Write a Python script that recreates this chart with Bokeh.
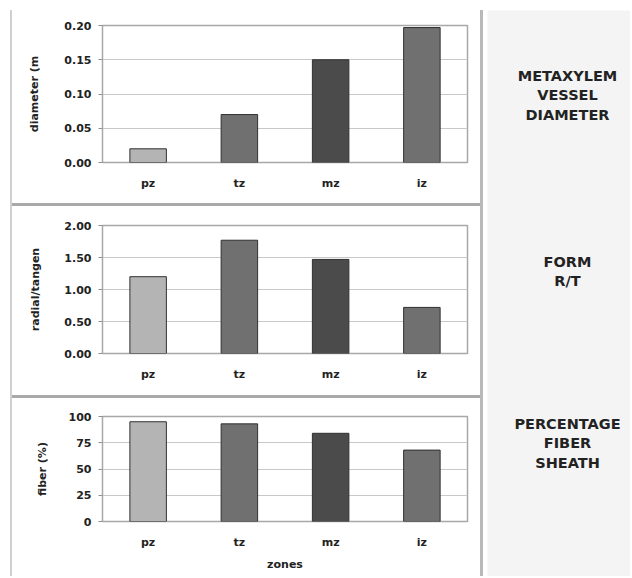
from bokeh.plotting import figure
from bokeh.layouts import row, column
from bokeh.models import (Spacer, Range1d, FactorRange, FixedTicker,
                          NumeralTickFormatter, Label, ColumnDataSource)
from bokeh.embed import file_html
from bokeh.resources import INLINE

# ---- data ----
zones = ["pz", "tz", "mz", "iz"]
bar_colors = ["#b4b4b4", "#707070", "#4b4b4b", "#707070"]
diameter = [0.02, 0.07, 0.15, 0.197]
form_rt = [1.20, 1.77, 1.47, 0.72]
fiber_pct = [95, 93, 84, 68]

diam_ticks = [0.0, 0.05, 0.10, 0.15, 0.20]
form_ticks = [0.0, 0.5, 1.0, 1.5, 2.0]
fiber_ticks = [0, 25, 50, 75, 100]

side_labels = ["METAXYLEM\nVESSEL\nDIAMETER", "FORM\nR/T", "PERCENTAGE\nFIBER\nSHEATH"]

FONT = "DejaVu Sans"
TXT = "#222222"


def panel(values, ticks, fmt, ymax, ylabel, height, borders, xlabel=None, lab_standoff=19):
    top, bottom, left, right = borders
    src = ColumnDataSource(dict(zone=zones, val=values, color=bar_colors))
    p = figure(x_range=FactorRange(*zones, range_padding=0),
               y_range=Range1d(0, ymax),
               width=468, height=height, output_backend="svg",
               toolbar_location=None,
               min_border_top=top, min_border_bottom=bottom,
               min_border_left=left, min_border_right=right)
    p.vbar(x="zone", top="val", width=0.4, source=src, fill_color="color",
           line_color="#303030", line_width=1)
    p.outline_line_color = "#a8a8a8"
    p.outline_line_width = 1.5
    p.background_fill_color = "white"
    p.border_fill_color = "white"
    p.xgrid.grid_line_color = None
    p.ygrid.grid_line_color = "#c8c8c8"
    p.ygrid.grid_line_width = 1

    p.yaxis.ticker = FixedTicker(ticks=ticks)
    p.yaxis.formatter = NumeralTickFormatter(format=fmt)
    p.yaxis.axis_line_color = None
    p.yaxis.major_tick_in = 0
    p.yaxis.major_tick_out = 4
    p.yaxis.major_tick_line_color = "#909090"
    p.yaxis.minor_tick_line_color = None
    p.yaxis.major_label_standoff = 7
    p.yaxis.axis_label = ylabel
    p.yaxis.axis_label_standoff = lab_standoff

    p.xaxis.axis_line_color = None
    p.xaxis.major_tick_line_color = None
    p.xaxis.major_tick_in = 0
    p.xaxis.major_tick_out = 0
    p.xaxis.major_label_standoff = 14
    if xlabel:
        p.xaxis.axis_label = xlabel
        p.xaxis.axis_label_standoff = 6

    for ax in (p.xaxis[0], p.yaxis[0]):
        ax.major_label_text_font = FONT
        ax.major_label_text_font_size = "11px"
        ax.major_label_text_font_style = "bold"
        ax.major_label_text_color = TXT
        ax.axis_label_text_font = FONT
        ax.axis_label_text_font_size = "11px"
        ax.axis_label_text_font_style = "bold"
        ax.axis_label_text_color = TXT
    return p


f1 = panel(diameter, diam_ticks, "0.00", 0.20, "diameter (m", 193, (15, 41, 87, 10), lab_standoff=20)
f2 = panel(form_rt, form_ticks, "0.00", 2.0, "radial/tangen", 189, (19, 42, 90, 13), lab_standoff=19)
f3 = panel(fiber_pct, fiber_ticks, "0", 100, "fiber (%)", 178, (18, 55, 90, 13),
           xlabel="zones", lab_standoff=17)

SEP = "#a9a9a9"
left_col = column(
    f1,
    Spacer(width=468, height=3, styles={"background-color": SEP}),
    f2,
    Spacer(width=468, height=3, styles={"background-color": SEP}),
    f3,
)

PANEL_H = 193 + 3 + 189 + 3 + 178

# right label panel
rp = figure(width=143, height=PANEL_H, x_range=Range1d(0, 143), y_range=Range1d(PANEL_H, 0),
            output_backend="svg", toolbar_location=None,
            min_border=0, min_border_left=0, min_border_right=0,
            min_border_top=0, min_border_bottom=0)
rp.axis.visible = False
rp.grid.visible = False
rp.outline_line_color = None
rp.background_fill_color = "#f4f4f4"
rp.border_fill_color = "#f4f4f4"
label_y = [85, 261, 433]
for txt, y in zip(side_labels, label_y):
    rp.add_layout(Label(x=80, y=y, text=txt, x_units="data", y_units="data",
                        text_align="center", text_baseline="middle",
                        text_font=FONT, text_font_size="14.5px",
                        text_font_style="bold", text_color=TXT,
                        text_line_height=1.2))

layout = column(
    Spacer(width=630, height=10),
    row(
        Spacer(width=10, height=PANEL_H),
        Spacer(width=2, height=PANEL_H, styles={"background-color": "#d0d0d0"}),
        left_col,
        Spacer(width=3, height=PANEL_H, styles={"background-color": "#b8b8b8"}),
        Spacer(width=4, height=PANEL_H),
        rp,
    ),
)

open("out.html", "w").write(file_html(layout, INLINE))
